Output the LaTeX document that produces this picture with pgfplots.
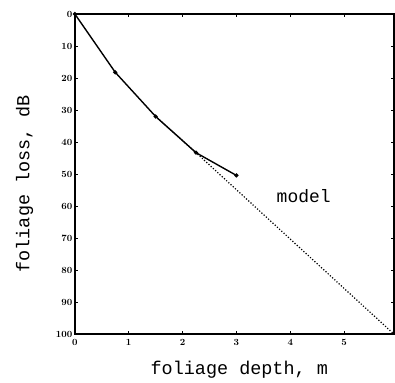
\documentclass[border=0pt]{standalone}
\usepackage{fontspec}
\usepackage{pgfplots}
\pgfplotsset{compat=1.18}
\usetikzlibrary{calc}
\newfontfamily\tw{Liberation Mono}
\begin{document}
\begin{tikzpicture}[x=1pt,y=1pt]
\begin{axis}[name=ax,
  scale only axis, width=320pt, height=321pt,
  xmin=0, xmax=5.93, ymin=0, ymax=100, y dir=reverse,
  axis line style={line width=1.6pt},
  xtick={0,1,2,3,4,5}, ytick={0,10,...,100},
  tick align=inside, tick style={line width=0.8pt, black}, major tick length=3pt,
  /pgf/number format/assume math mode=true,
  ticklabel style={font=\bfseries\fontsize{9.5}{11}\selectfont},
  xticklabel style={yshift=-1pt},
  yticklabel style={xshift=1pt},
  xlabel={foliage depth, m}, ylabel={foliage loss, dB},
  every axis x label/.style={at={(axis description cs:0.515,-0.11)}, anchor=center, font=\tw\fontsize{18.5}{20}\selectfont},
  every axis y label/.style={at={(axis description cs:-0.157,0.47)}, rotate=90, anchor=center, font=\tw\fontsize{18.5}{20}\selectfont},
  clip=false,
]
\addplot[black, line width=1.4pt, mark=*, mark size=1.3pt] coordinates {(0,0) (0.75,18.2) (1.5,32) (2.25,43.3) (3.0,50.4)};
\addplot[black, line width=1.7pt, line cap=round, dash pattern=on 0pt off 3pt] coordinates {(1.5,32) (2.25,43.3) (5.93,100)};
\node[font=\tw\fontsize{18}{20}\selectfont] at (axis cs:4.25,57) {model};
\end{axis}
\path[use as bounding box] ($(ax.south west)+(-75pt,-48pt)$) rectangle ($(ax.north east)+(0pt,14pt)$);
\end{tikzpicture}
\end{document}
